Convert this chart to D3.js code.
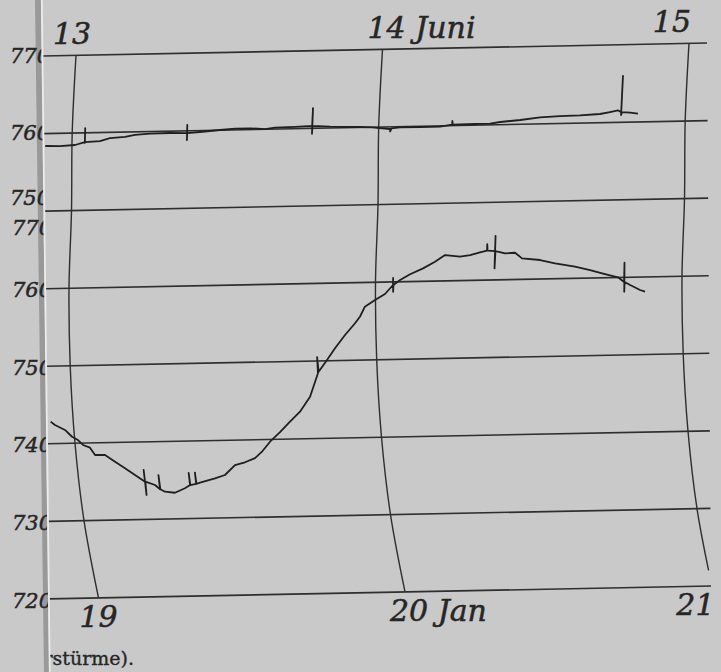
<!DOCTYPE html>
<html>
<head>
<meta charset="utf-8">
<script src="https://cdn.jsdelivr.net/npm/d3@7"></script>
<style>
  html, body { margin: 0; padding: 0; background: #c9c9c9; }
  svg { display: block; }
</style>
</head>
<body>
<svg id="chart" width="721" height="672"></svg>
<script>
// ---------------- data ----------------
const dayLabelsTop = ["13", "14 Juni", "15"];
const dayLabelsBottom = ["19", "20 Jan", "21"];
const dayHours = [0, 24, 48];
const pressureTicksTop = [770, 760, 750];
const pressureTicksBottom = [770, 760, 750, 740, 730, 720];
const captionFragment = "rstürme).";

// barograph trace, 13–15 June: [hours since 13th 0h, mmHg]
const juniHours = [-2.1,-0.95,0.23,1.0,1.0,1.0,1.01,2.18,2.96,4.14,4.92,6.09,7.66,8.99,8.99,8.99,9.0,10.0,11.57,12.75,13.92,15.1,15.88,17.45,18.78,18.78,18.78,18.8,20.19,22.54,23.48,24.89,24.9,25.0,25.67,27.24,28.81,29.75,29.75,29.8,31.55,32.72,33.51,35.07,36.61,38.17,39.73,41.29,42.07,42.69,42.95,42.95,42.95,43.0,43.64,44.27];
const juniValues = [758.4,758.35,758.45,758.8,760.6,758.7,758.8,758.9,759.26,759.36,759.6,759.72,759.76,759.71,760.75,758.8,759.7,759.81,760.02,760.15,760.16,760.03,760.18,760.22,760.3,762.6,759.3,760.3,760.17,760.05,759.98,759.72,759.4,759.8,759.91,759.9,759.89,760.12,760.6,760.12,760.15,760.15,760.34,760.55,760.85,760.96,761.0,761.12,761.35,761.55,761.3,765.96,760.94,761.3,761.21,761.06];

// barograph trace, 19–21 January: [hours since 19th 0h, mmHg]
const janHours = [-1.8,-1.48,-0.72,-0.2,0.25,0.61,1.13,1.46,2.24,2.96,3.68,4.4,5.12,5.12,5.12,5.15,5.87,6.23,6.23,6.25,6.59,7.36,8.18,8.61,8.61,8.63,9.1,9.1,9.12,9.41,10.62,11.43,12.3,13.11,13.93,14.53,15.25,16.09,16.92,17.75,18.61,19.34,19.34,19.4,20.11,20.75,21.55,22.35,22.75,23.14,23.94,24.73,25.37,25.37,25.37,25.4,25.92,26.69,27.69,28.61,29.38,30.56,31.35,32.11,32.66,32.66,32.7,33.29,33.29,33.29,33.32,34.08,34.86,35.42,36.84,38.02,39.59,40.78,41.96,42.99,43.46,43.46,43.46,43.5,43.93,44.7,45.09];
const janValues = [742.85,742.4,741.74,740.85,740.41,739.76,739.39,738.44,738.41,737.52,736.65,735.76,734.87,736.38,733.15,734.87,734.42,733.85,735.69,733.85,733.53,733.37,733.92,734.33,735.88,734.3,734.45,735.9,734.45,734.6,735.13,735.53,736.79,737.12,737.64,738.44,739.71,740.93,742.24,743.5,745.41,748.41,750.5,748.6,750.1,751.59,753.27,754.76,755.62,756.87,757.71,758.46,759.6,760.5,758.73,759.6,760.23,760.94,761.67,762.5,763.33,763.08,763.27,763.59,763.78,764.64,763.78,763.72,765.66,761.49,763.72,763.4,763.45,762.71,762.45,761.98,761.5,761.03,760.48,760.02,759.4,761.89,758.15,759.4,759.0,758.33,758.1];

// ---------------- paper geometry (scales) ----------------
const svg = d3.select("#chart");
const W = 721, H = 672;
const ink = "#262626";

const hourX = d3.scaleLinear().domain([0, 48]).range([69, 682]);
const rowY = d3.scaleLinear().domain([0, 7]).range([56, 599]);
const topRow = d3.scaleLinear().domain([770, 750]).range([0, 2]);
const botRow = d3.scaleLinear().domain([770, 720]).range([2, 7]);
// pen-arm arc: horizontal displacement of time lines by row
const arcDx = d3.scaleLinear().domain([0,1,2,3,4,5,6,7]).range([7,3.2,2.5,0,1.2,6,15,29.5]);
const tilt = 0.0196;
function project(h, row) {
  const x = hourX(h) + arcDx(row);
  const y = rowY(row) - tilt * (x - 45);
  return [x, y];
}
// left paper edge (fold) and right end of ruled lines
const edgeX = d3.scaleLinear().domain([0, H]).range([41, 49]);
const lineEnd = d3.scaleLinear().domain([45, 586]).range([707, 711]);

// ---------------- background strip ----------------
svg.append("rect").attr("width", W).attr("height", H).attr("fill", "#c9c9c9");
svg.append("polygon")
  .attr("points", [[35,0],[edgeX(0),0],[edgeX(H),H],[44,H]].map(p => p.join(",")).join(" "))
  .attr("fill", "#999");

// clip for the left labels (cut off at the edge)
const defs = svg.append("defs");
defs.append("clipPath").attr("id", "leftClip")
  .append("polygon")
  .attr("points", [[0,0],[edgeX(0),0],[edgeX(H),H],[0,H]].map(p => p.join(",")).join(" "));
defs.append("clipPath").attr("id", "rightClip")
  .append("polygon")
  .attr("points", [[edgeX(0)+1.5,0],[W,0],[W,H],[edgeX(H)+1.5,H]].map(p => p.join(",")).join(" "));

// ---------------- ruled pressure lines ----------------
const rows = d3.range(0, 8);
const gGrid = svg.append("g");
rows.forEach(r => {
  const y0 = rowY(r);
  const xs = edgeX(y0) + 1;
  const xe = lineEnd(y0 - tilt * 660);
  gGrid.append("line")
    .attr("x1", xs).attr("y1", y0 - tilt * (xs - 45))
    .attr("x2", xe).attr("y2", y0 - tilt * (xe - 45))
    .attr("stroke", "#2e2e2e").attr("stroke-width", 1.6);
});

// ---------------- time arcs ----------------
const arcLine = d3.line().curve(d3.curveCatmullRom);
dayHours.forEach((h, i) => {
  const maxRow = i === 2 ? 6.8 : 7;
  const pts = d3.range(0, Math.floor(maxRow) + 1).map(r => project(h, r));
  if (maxRow % 1) pts.push(project(h, maxRow));
  gGrid.append("path").attr("d", arcLine(pts))
    .attr("fill", "none").attr("stroke", "#2e2e2e").attr("stroke-width", 1.4);
});

// ---------------- left pressure labels ----------------
const gLab = svg.append("g").attr("clip-path", "url(#leftClip)")
  .attr("font-family", "DejaVu Serif").attr("font-style", "italic")
  .attr("font-size", 21).attr("fill", ink)
  .attr("stroke", ink).attr("stroke-width", 0.5);
pressureTicksTop.forEach((p, i) => {
  const r = topRow(p);
  const off = i === pressureTicksTop.length - 1 ? -6 : 6.5;
  gLab.append("text").attr("x", 10).attr("y", rowY(r) + off).text(p);
});
pressureTicksBottom.forEach((p, i) => {
  const r = botRow(p);
  const off = i === 0 ? 24 : 8.5;
  gLab.append("text").attr("x", 12).attr("y", rowY(r) + off).text(p);
});

// white edge line
svg.append("line").attr("x1", edgeX(0) + 0.8).attr("y1", 0)
  .attr("x2", edgeX(H) + 0.8).attr("y2", H)
  .attr("stroke", "#ebebeb").attr("stroke-width", 1.8);

// ---------------- day labels ----------------
const gDay = svg.append("g")
  .attr("font-family", "DejaVu Serif").attr("font-style", "italic")
  .attr("font-size", 30).attr("fill", ink)
  .attr("stroke", ink).attr("stroke-width", 0.5);
const topAnchor = [["middle", -4], ["start", -15], ["end", 2]];
const botAnchor = [["middle", 0], ["start", -15], ["end", 3]];
dayLabelsTop.forEach((t, i) => {
  const [x, y] = project(dayHours[i], 0);
  gDay.append("text").attr("x", x + topAnchor[i][1]).attr("y", y - 11)
    .attr("text-anchor", topAnchor[i][0]).text(t);
});
dayLabelsBottom.forEach((t, i) => {
  const [x, y] = project(dayHours[i], 7);
  gDay.append("text").attr("x", x + botAnchor[i][1]).attr("y", y + 29.5)
    .attr("text-anchor", botAnchor[i][0]).text(t);
});

// ---------------- traces ----------------
const trace = d3.line();
const juni = juniHours.map((h, i) => project(h, topRow(juniValues[i])));
const jan = janHours.map((h, i) => project(h, botRow(janValues[i])));
svg.append("g").attr("clip-path", "url(#rightClip)")
  .selectAll("path").data([juni, jan]).join("path")
  .attr("d", trace)
  .attr("fill", "none").attr("stroke", "#1f1f1f").attr("stroke-width", 1.8)
  .attr("stroke-linejoin", "round");

// ---------------- caption fragment ----------------
svg.append("g").attr("clip-path", "url(#rightClip)")
  .append("text").attr("x", 43.5).attr("y", 665)
  .attr("font-family", "DejaVu Serif").attr("font-size", 19).attr("fill", ink)
  .attr("stroke", ink).attr("stroke-width", 0.35)
  .text(captionFragment);
</script>
</body>
</html>
